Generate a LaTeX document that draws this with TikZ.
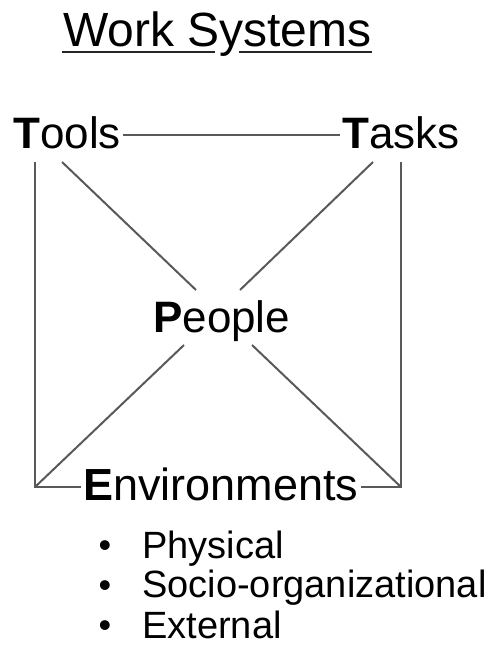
\documentclass[tikz,border=0pt]{standalone}
\usepackage{fontspec}
\setmainfont{Liberation Sans}
\begin{document}
\begin{tikzpicture}[x=1pt,y=-1pt,
  lbl/.style={inner sep=2pt, anchor=base west, font=\fontsize{44}{50}\selectfont},
  blt/.style={inner sep=0pt, anchor=base west, font=\fontsize{38}{44}\selectfont},
  dot/.style={inner sep=0pt, font=\fontsize{36}{44}\selectfont},
  conn/.style={draw=black!65, line width=2pt},
  uline/.style={draw=black!85, line width=2.4pt}]
\useasboundingbox (0,0) rectangle (493,654);
% title
\node[inner sep=0pt, anchor=base west, font=\fontsize{48}{52}\selectfont] (title) at (63,46) {Work Systems};
\coordinate (u1) at (62,52);
\coordinate (u2) at (215,52);
\coordinate (u3) at (239,52);
\coordinate (u4) at (372,52);
\draw[uline] (u1) -- (u2);
\draw[uline] (u3) -- (u4);
% labels
\node[lbl] (tools) at (11,148) {\textbf{T}ools};
\node[lbl] (tasks) at (340,148) {\textbf{T}asks};
\node[lbl] (people) at (151,332) {\textbf{P}eople};
\node[lbl, font=\fontsize{45}{50}\selectfont] (env) at (81,500) {\textbf{E}nvironments};
% coordinates
\coordinate (tl) at (35,162);
\coordinate (tr) at (401,162);
\coordinate (bl) at (35,487);
\coordinate (br) at (401,487);
\coordinate (td1) at (62,162);
\coordinate (td2) at (373,162);
\coordinate (pu1) at (196,290);
\coordinate (pu2) at (240,290);
\coordinate (pd1) at (184,345);
\coordinate (pd2) at (252,345);
% connectors
\draw[conn] (tools.east |- 0,135) -- (tasks.west |- 0,135);
\draw[conn] (tl) -- (bl) -- (bl -| env.west);
\draw[conn] (tr) -- (br) -- (br -| env.east);
\draw[conn] (td1) -- (pu1);
\draw[conn] (td2) -- (pu2);
\draw[conn] (pd1) -- (bl);
\draw[conn] (pd2) -- (br);
% bullets
\node[dot] (b1) at (105,549) {\textbullet};
\node[dot] (b2) at (105,589) {\textbullet};
\node[dot] (b3) at (105,629) {\textbullet};
\node[blt] (phys) at (142,558) {Physical};
\node[blt] (socio) at (142,597) {Socio-organizational};
\node[blt] (ext) at (142,638) {External};
\end{tikzpicture}
\end{document}
